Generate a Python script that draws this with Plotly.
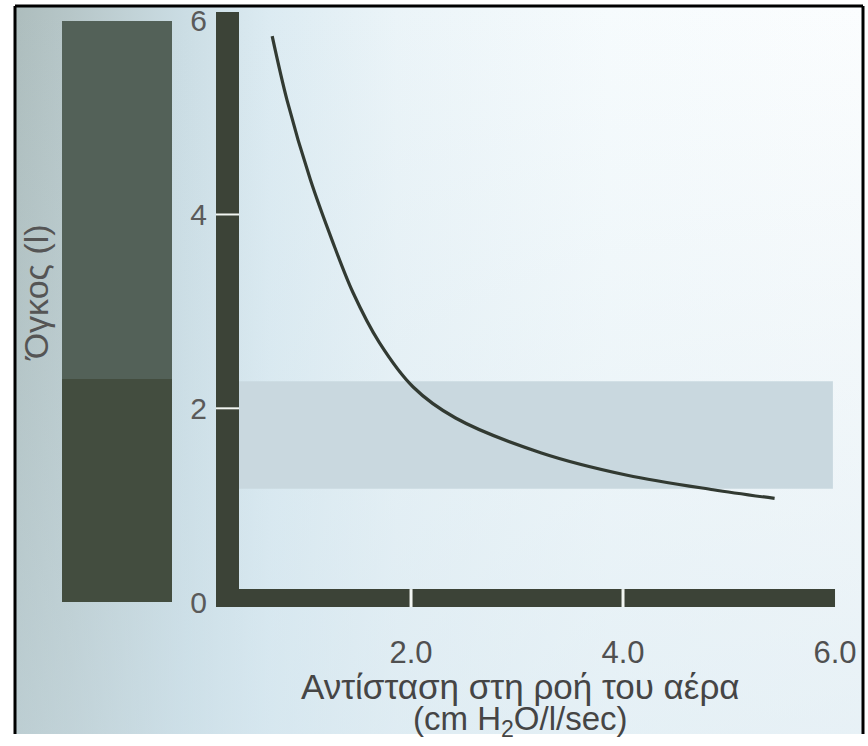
import base64
import plotly.graph_objects as go

# ---------------- data ----------------
resistance = [0.69, 0.83, 1.05, 1.26, 1.45, 1.70, 2.02, 2.42, 3.23, 4.04, 4.85, 5.43]
volume = [5.84, 5.18, 4.36, 3.72, 3.20, 2.68, 2.22, 1.90, 1.54, 1.31, 1.16, 1.07]

lung_segments = [2.3, 3.7]          # stacked volume bar: lower part, upper part (l)
band_range = [1.17, 2.28]           # shaded volume range (l)

x_ticks = [2, 4, 6]
x_tick_labels = ["2.0", "4.0", "6.0"]
y_ticks = [0, 2, 4, 6]
y_tick_labels = ["0", "2", "4", "6"]

x_title_line1 = "Αντίσταση στη ροή του αέρα"
x_title_line2 = "(cm H<sub>2</sub>O/l/sec)"
y_title = "Όγκος (l)"

# ---------------- geometry / styles ----------------
W, H = 868, 746
FONT = "Liberation Sans, Arial, sans-serif"
DARK = "#3c4337"
BAR_UP = "#536158"
BAR_LOW = "#434d3f"
BAND = "#c9d8df"
CURVE = "#323a32"

X_RANGE = [0.16, 6.264]
Y_RANGE = [-0.0508, 6.213]
Y_DOMAIN = [129 / H, 1.0]
X_DOMAIN = [216 / W, 863 / W]

AX_X = (0.16, 0.377)     # vertical axis bar extent (x units)
AX_Y = (-0.0508, 0.135)  # horizontal axis bar extent (y units)
AX_TOP = 6.09
AX_RIGHT = 6.0

fig = go.Figure()

# left stacked volume bar
fig.add_trace(go.Bar(x=[0], y=[lung_segments[0]], width=[1], marker=dict(color=BAR_LOW, line=dict(width=0)),
                     xaxis="x2", yaxis="y", showlegend=False, hoverinfo="skip"))
fig.add_trace(go.Bar(x=[0], y=[lung_segments[1]], width=[1], marker=dict(color=BAR_UP, line=dict(width=0)),
                     xaxis="x2", yaxis="y", showlegend=False, hoverinfo="skip"))

# curve
fig.add_trace(go.Scatter(x=resistance, y=volume, mode="lines",
                         line=dict(color=CURVE, width=3.2, shape="spline", smoothing=0.9),
                         showlegend=False, hoverinfo="skip"))

shapes = []
# shaded band
shapes.append(dict(type="rect", xref="x", yref="y", x0=AX_X[1], x1=5.98, y0=band_range[0], y1=band_range[1],
                   fillcolor=BAND, line=dict(width=0), layer="below"))
# thick axis bars
shapes.append(dict(type="rect", xref="x", yref="y", x0=AX_X[0], x1=AX_X[1], y0=AX_Y[0], y1=AX_TOP,
                   fillcolor=DARK, line=dict(width=0), layer="above"))
shapes.append(dict(type="rect", xref="x", yref="y", x0=AX_X[0], x1=AX_RIGHT, y0=AX_Y[0], y1=AX_Y[1],
                   fillcolor=DARK, line=dict(width=0), layer="above"))
# white tick gaps
for v in y_ticks:
    if 0 < v < 6:
        shapes.append(dict(type="line", xref="x", yref="y", x0=AX_X[0], x1=AX_X[1], y0=v, y1=v,
                           line=dict(color="#f2f6f2", width=2), layer="above"))
for v in x_ticks:
    if v < 6:
        shapes.append(dict(type="line", xref="x", yref="y", x0=v, x1=v, y0=AX_Y[0], y1=AX_Y[1],
                           line=dict(color="#f2f6f2", width=3), layer="above"))
# frame border
bx0, bx1, by0 = 15 / W, 863 / W, 1 - 6 / H
shapes.append(dict(type="line", xref="paper", yref="paper", x0=bx0, x1=bx0, y0=0, y1=by0, line=dict(color="black", width=3)))
shapes.append(dict(type="line", xref="paper", yref="paper", x0=bx1, x1=bx1, y0=0, y1=by0, line=dict(color="black", width=3)))
shapes.append(dict(type="line", xref="paper", yref="paper", x0=bx0, x1=bx1, y0=by0, y1=by0, line=dict(color="black", width=3)))

# gradient background as svg image
svg = (
    "<svg xmlns='http://www.w3.org/2000/svg' width='848' height='740' viewBox='0 0 848 740' preserveAspectRatio='none'>"
    "<defs><linearGradient id='g' x1='0' y1='0' x2='1' y2='0'>"
    "<stop offset='0' stop-color='#adbdbd'/>"
    "<stop offset='0.07' stop-color='#b7c7c9'/>"
    "<stop offset='0.2' stop-color='#cbdde4'/>"
    "<stop offset='0.3' stop-color='#dcebf2'/>"
    "<stop offset='0.45' stop-color='#ebf4f8'/>"
    "<stop offset='0.7' stop-color='#f6fbfd'/>"
    "<stop offset='1' stop-color='#fbfdfe'/>"
    "</linearGradient>"
    "<linearGradient id='v' x1='0' y1='0' x2='0' y2='1'>"
    "<stop offset='0' stop-color='#d0e2ea' stop-opacity='0'/>"
    "<stop offset='1' stop-color='#cfe2ec' stop-opacity='0.45'/>"
    "</linearGradient></defs>"
    "<rect width='848' height='740' fill='url(#g)'/>"
    "<rect width='848' height='740' fill='url(#v)'/>"
    "</svg>"
)
src = "data:image/svg+xml;base64," + base64.b64encode(svg.encode()).decode()

fig.update_layout(
    width=W, height=H,
    margin=dict(l=0, r=0, t=0, b=0),
    paper_bgcolor="white",
    plot_bgcolor="rgba(0,0,0,0)",
    barmode="stack",
    bargap=0,
    shapes=shapes,
    images=[dict(source=src, xref="paper", yref="paper", x=bx0, y=by0, sizex=bx1 - bx0, sizey=by0,
                 sizing="stretch", layer="below", xanchor="left", yanchor="top")],
    font=dict(family=FONT),
    xaxis=dict(domain=X_DOMAIN, range=X_RANGE, showgrid=False, zeroline=False, showline=False,
               tickvals=x_ticks, ticktext=x_tick_labels, ticks="outside", ticklen=18,
               tickcolor="rgba(0,0,0,0)", tickfont=dict(size=31, color="#505050", family=FONT),
               anchor="y", fixedrange=True),
    xaxis2=dict(domain=[62 / W, 172 / W], range=[-0.5, 0.5], visible=False, anchor="y", fixedrange=True),
    yaxis=dict(domain=Y_DOMAIN, range=Y_RANGE, showgrid=False, zeroline=False, showline=False,
               tickvals=y_ticks, ticktext=y_tick_labels, ticks="outside", ticklen=2,
               tickcolor="rgba(0,0,0,0)", tickfont=dict(size=30, color="#5a5a5a", family=FONT),
               anchor="x", fixedrange=True),
    annotations=[
        dict(text=x_title_line1, xref="paper", yref="paper", x=520 / W, y=1 - 698 / H, showarrow=False,
             xanchor="center", yanchor="middle", font=dict(size=35, color="#454545", family=FONT)),
        dict(text=x_title_line2, xref="paper", yref="paper", x=520 / W, y=1 - 733 / H, showarrow=False,
             xanchor="center", yanchor="middle", font=dict(size=33, color="#454545", family=FONT)),
        dict(text=y_title, xref="paper", yref="paper", x=36 / W, y=1 - 298 / H, showarrow=False, textangle=-90,
             xanchor="center", yanchor="middle", font=dict(size=34, color="#555555", family=FONT)),
    ],
)

fig.write_html("out.html", config={"displayModeBar": False},
               post_script="document.body.style.margin='0';")
